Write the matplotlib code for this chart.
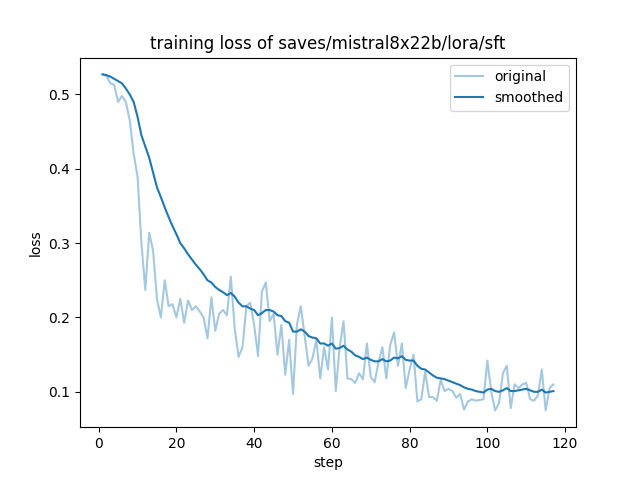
import matplotlib
matplotlib.use("Agg")
import matplotlib.pyplot as plt

# loss values, steps 1..117
original = [
    0.527, 0.525, 0.515, 0.513, 0.490, 0.498, 0.490, 0.465, 0.420, 0.390,
    0.300, 0.237, 0.314, 0.290, 0.225, 0.200, 0.250, 0.215, 0.218, 0.200,
    0.225, 0.193, 0.223, 0.210, 0.215, 0.208, 0.200, 0.172, 0.227, 0.182,
    0.205, 0.210, 0.203, 0.255, 0.185, 0.147, 0.160, 0.215, 0.220, 0.190,
    0.148, 0.235, 0.247, 0.195, 0.205, 0.150, 0.190, 0.123, 0.170, 0.097,
    0.190, 0.215, 0.175, 0.135, 0.145, 0.170, 0.118, 0.160, 0.130, 0.200,
    0.101, 0.160, 0.195, 0.118, 0.117, 0.112, 0.125, 0.117, 0.165, 0.120,
    0.113, 0.140, 0.160, 0.118, 0.163, 0.180, 0.135, 0.165, 0.105, 0.130,
    0.150, 0.087, 0.090, 0.127, 0.093, 0.093, 0.088, 0.116, 0.101, 0.104,
    0.101, 0.092, 0.097, 0.076, 0.087, 0.090, 0.088, 0.089, 0.090, 0.142,
    0.100, 0.075, 0.085, 0.125, 0.135, 0.078, 0.110, 0.105, 0.110, 0.112,
    0.090, 0.088, 0.095, 0.130, 0.075, 0.105, 0.110,
]
smoothed = [
    0.527, 0.526, 0.524, 0.521, 0.518, 0.515, 0.508, 0.500, 0.490, 0.470,
    0.445, 0.430, 0.415, 0.395, 0.375, 0.362, 0.348, 0.335, 0.323, 0.312,
    0.300, 0.293, 0.285, 0.278, 0.271, 0.265, 0.258, 0.250, 0.247, 0.241,
    0.237, 0.234, 0.230, 0.233, 0.228, 0.220, 0.215, 0.215, 0.212, 0.210,
    0.203, 0.206, 0.210, 0.210, 0.208, 0.203, 0.202, 0.195, 0.193, 0.181,
    0.181, 0.184, 0.181, 0.175, 0.173, 0.172, 0.165, 0.165, 0.162, 0.165,
    0.158, 0.159, 0.162, 0.157, 0.154, 0.149, 0.147, 0.144, 0.146, 0.143,
    0.141, 0.141, 0.144, 0.141, 0.142, 0.146, 0.145, 0.148, 0.143, 0.142,
    0.142, 0.135, 0.131, 0.130, 0.126, 0.122, 0.119, 0.118, 0.117, 0.115,
    0.113, 0.111, 0.109, 0.106, 0.104, 0.103, 0.101, 0.100, 0.099, 0.103,
    0.104, 0.101, 0.100, 0.102, 0.105, 0.101, 0.101, 0.102, 0.103, 0.104,
    0.102, 0.100, 0.100, 0.103, 0.099, 0.100, 0.101,
]
steps = list(range(1, len(original) + 1))

fig = plt.figure(figsize=(6.4, 4.8), dpi=100)
plt.plot(steps, original, color="#1f77b4", alpha=0.4, label="original")
plt.plot(steps, smoothed, color="#1f77b4", label="smoothed")
plt.title("training loss of saves/mistral8x22b/lora/sft")
plt.xlabel("step")
plt.ylabel("loss")
plt.legend()
plt.savefig("out.png", dpi=100)
